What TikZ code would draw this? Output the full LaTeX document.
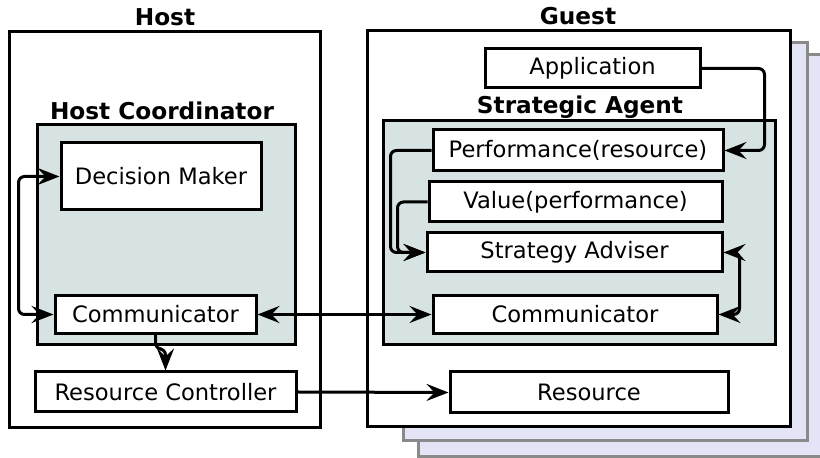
\documentclass[tikz,border=0pt]{standalone}
\usepackage{fontspec}
\setmainfont{DejaVu Sans}
\usetikzlibrary{arrows.meta}
\definecolor{shade}{HTML}{D7E3E2}
\definecolor{lav}{HTML}{E4E4F7}
\definecolor{shadowline}{HTML}{8A8A8A}
\begin{document}
\begin{tikzpicture}[x=0.5pt,y=-0.5pt,
  >={Stealth[length=11pt,width=8.5pt,inset=4pt]},
  every node/.style={font=\fontsize{11.3}{13.5}\selectfont},
  box/.style={draw,line width=1.5pt,fill=white,inner sep=0pt,rectangle},
  group/.style={draw,line width=1.5pt,fill=shade,inner sep=0pt,rectangle},
  outer/.style={draw,line width=1.5pt,fill=white,inner sep=0pt,rectangle},
  shadowbox/.style={draw=shadowline,line width=1.5pt,fill=lav},
  title/.style={font=\bfseries\fontsize{11.6}{13.8}\selectfont},
  conn/.style={line width=1.5pt,rounded corners=3pt}
]
\useasboundingbox (0,0) rectangle (820,458);
% guest shadows
\draw[shadowbox] (418,55) rectangle (824,457);
\draw[shadowbox] (403,43) rectangle (807,441);
% outer boxes
\node[outer,minimum width=155.5pt,minimum height=198pt] (host) at (164.5,230) {};
\node[outer,minimum width=211.5pt,minimum height=198pt] (guest) at (578.5,229) {};
\node[title] (hostlbl) at (165,17) {Host};
\node[title] (guestlbl) at (578,16) {Guest};
% host coordinator
\node[group,minimum width=129pt,minimum height=110pt] (hc) at (166,235) {};
\node[title] (hclbl) at (162,111) {Host Coordinator};
\node[box,minimum width=100pt,minimum height=33.5pt] (dm) at (161,176.5) {Decision Maker};
\node[box,minimum width=100.5pt,minimum height=19pt] (hcomm) at (155.5,314.5) {Communicator};
\node[box,minimum width=130.5pt,minimum height=20pt] (rc) at (165.5,392) {Resource Controller};
% guest content
\node[box,minimum width=107.5pt,minimum height=19.5pt] (app) at (592.5,68.5) {Application};
\node[group,minimum width=196pt,minimum height=112pt] (sa) at (579,233) {};
\node[title] (salbl) at (580,107) {Strategic Agent};
\node[box,minimum width=145pt,minimum height=20.5pt] (perf) at (578,150.5) {Performance(resource)};
\node[box,minimum width=146.5pt,minimum height=20pt] (val) at (575.5,202) {Value(performance)};
\node[box,minimum width=147.5pt,minimum height=19.5pt] (adv) at (574.5,252.5) {Strategy Adviser};
\node[box,minimum width=142pt,minimum height=19pt] (gcomm) at (575,314.5) {Communicator};
\node[box,minimum width=139pt,minimum height=20.5pt] (res) at (589,392.5) {Resource};
% connectors
\draw[conn,<->] (dm.west) -- ++(-41,0) |- (hcomm.west);
\draw[conn,<->] (hcomm.east) -- (gcomm.west);
\draw[conn,->] (hcomm.south) -- ++(0,14) -| (rc.north);
\draw[conn,->] (rc.east) -- (res.west);
\draw[conn,->] (app.east) -- ++(63,0) |- (perf.east);
\draw[conn,->] (perf.west) -- ++(-41,0) |- (adv.west);
\draw[conn,->] (val.west) -- ++(-30,0) |- (adv.west);
\draw[conn,<->] (adv.east) -- ++(16,0) |- (gcomm.east);
\end{tikzpicture}
\end{document}
